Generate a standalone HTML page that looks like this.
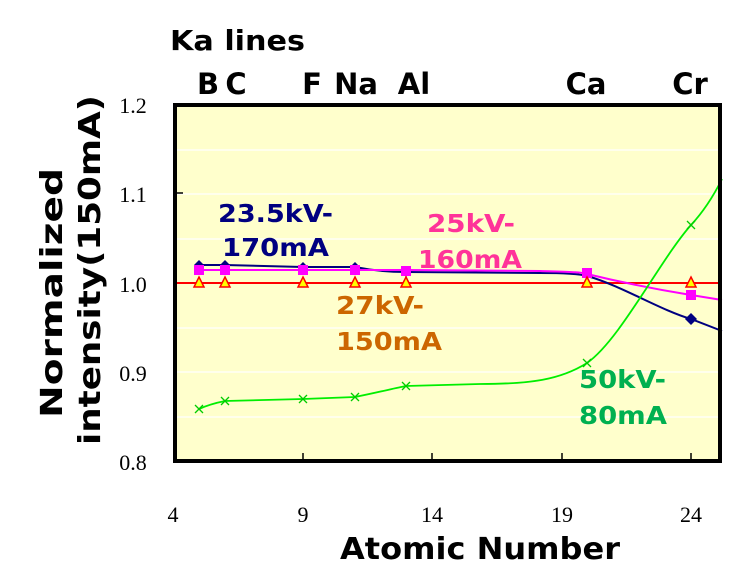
<!DOCTYPE html>
<html><head><meta charset="utf-8"><style>
body{margin:0;background:#fff;width:738px;height:573px;overflow:hidden}
svg text{font-family:"DejaVu Sans",sans-serif;font-weight:bold}
.s{font-family:"Liberation Serif",serif;font-weight:normal;font-size:22px}
</style></head><body>
<svg width="738" height="573" xmlns="http://www.w3.org/2000/svg">
<rect x="175" y="105" width="545" height="356" fill="#ffffcc"/>
<g stroke="#fff" stroke-width="1.2">
<line x1="175" y1="150" x2="720" y2="150"/><line x1="175" y1="194" x2="720" y2="194"/>
<line x1="175" y1="239" x2="720" y2="239"/><line x1="175" y1="328" x2="720" y2="328"/>
<line x1="175" y1="372" x2="720" y2="372"/><line x1="175" y1="417" x2="720" y2="417"/>
</g>
<line x1="175" y1="283" x2="720" y2="283" stroke="#000" stroke-width="1.5" stroke-dasharray="2,2"/>
<line x1="175" y1="283" x2="722" y2="283" stroke="#f00" stroke-width="2"/>
<path d="M199,265 L225,265 L303,267 L355,267 C380,272 400,272 406,272 L540,273 C560,273 580,274 587,276 C620,285 660,310 691,319 L722,331" fill="none" stroke="#000080" stroke-width="2"/>
<path d="M199,270 L406,270 L540,271 C570,272 580,272 587,274 C620,282 660,290 691,295 L722,300" fill="none" stroke="#ff00ff" stroke-width="2"/>
<path d="M199,409 C210,404 220,402 225,401 L303,399 L355,397 C380,392 395,388 406,386 L480,384 C530,384 560,380 587,363 C620,340 660,260 691,225 C705,210 715,193 722,179" fill="none" stroke="#00ee00" stroke-width="1.8"/>
<g fill="#000080">
<path d="M199,260l5,5l-5,5l-5-5z"/><path d="M225,260l5,5l-5,5l-5-5z"/><path d="M303,262l5,5l-5,5l-5-5z"/><path d="M355,262l5,5l-5,5l-5-5z"/><path d="M406,267l5,5l-5,5l-5-5z"/><path d="M691,313l6,6l-6,6l-6-6z"/>
</g>
<g fill="#ff00ff">
<rect x="194" y="265" width="10" height="10"/><rect x="220" y="265" width="10" height="10"/><rect x="298" y="265" width="10" height="10"/><rect x="350" y="265" width="10" height="10"/><rect x="401" y="266" width="10" height="10"/><rect x="582" y="268" width="10" height="10"/><rect x="686" y="290" width="10" height="10"/>
</g>
<g fill="#ff0" stroke="#f00" stroke-width="1.5">
<path d="M199,277l5,10h-10z"/><path d="M225,277l5,10h-10z"/><path d="M303,277l5,10h-10z"/><path d="M355,277l5,10h-10z"/><path d="M406,277l5,10h-10z"/><path d="M587,277l5,10h-10z"/><path d="M691,277l5,10h-10z"/>
</g>
<g stroke="#00cc00" stroke-width="1.3">
<path d="M195,405l8,8M203,405l-8,8M221,397l8,8M229,397l-8,8M299,395l8,8M307,395l-8,8M351,393l8,8M359,393l-8,8M402,382l8,8M410,382l-8,8M583,359l8,8M591,359l-8,8M687,221l8,8M695,221l-8,8"/>
</g>
<rect x="175" y="105" width="545" height="356" fill="none" stroke="#000" stroke-width="4"/>
<g stroke="#000" stroke-width="1.5">
<line x1="303" y1="461" x2="303" y2="453"/><line x1="432" y1="461" x2="432" y2="453"/><line x1="562" y1="461" x2="562" y2="453"/><line x1="691" y1="461" x2="691" y2="453"/>
<line x1="175" y1="193" x2="183" y2="193"/>
</g>
<g text-anchor="middle">
<text class="s" x="133" y="113">1.2</text><text class="s" x="133" y="202">1.1</text><text class="s" x="133" y="292">1.0</text><text class="s" x="133" y="381">0.9</text><text class="s" x="133" y="470">0.8</text>
<text class="s" x="173" y="522">4</text><text class="s" x="303" y="522">9</text><text class="s" x="432" y="522">14</text><text class="s" x="562" y="522">19</text><text class="s" x="691" y="522">24</text>
</g>
<text x="170" y="50" font-size="28" textLength="135" lengthAdjust="spacingAndGlyphs">Ka lines</text>
<g font-size="29" text-anchor="middle">
<text x="208" y="94">B</text><text x="236" y="94">C</text><text x="312" y="94">F</text><text x="356" y="94">Na</text><text x="414" y="94">Al</text><text x="586" y="94">Ca</text><text x="690" y="94">Cr</text>
</g>
<text x="340" y="559" font-size="30" textLength="280" lengthAdjust="spacingAndGlyphs">Atomic Number</text>
<g font-size="30">
<text transform="translate(62,418) rotate(-90)" textLength="250" lengthAdjust="spacingAndGlyphs">Normalized</text>
<text transform="translate(100,445) rotate(-90)" textLength="350" lengthAdjust="spacingAndGlyphs">intensity(150mA)</text>
</g>
<g font-size="25">
<text x="218" y="222" fill="#000080" textLength="115" lengthAdjust="spacingAndGlyphs">23.5kV-</text><text x="222" y="256" fill="#000080" textLength="107" lengthAdjust="spacingAndGlyphs">170mA</text>
<text x="427" y="232" fill="#ff3399" textLength="88" lengthAdjust="spacingAndGlyphs">25kV-</text><text x="418" y="268" fill="#ff3399" textLength="104" lengthAdjust="spacingAndGlyphs">160mA</text>
<text x="336" y="314" fill="#cc6600" textLength="88" lengthAdjust="spacingAndGlyphs">27kV-</text><text x="336" y="350" fill="#cc6600" textLength="106" lengthAdjust="spacingAndGlyphs">150mA</text>
<text x="579" y="388" fill="#00b050" textLength="87" lengthAdjust="spacingAndGlyphs">50kV-</text><text x="579" y="424" fill="#00b050" textLength="88" lengthAdjust="spacingAndGlyphs">80mA</text>
</g>
</svg>
</body></html>
